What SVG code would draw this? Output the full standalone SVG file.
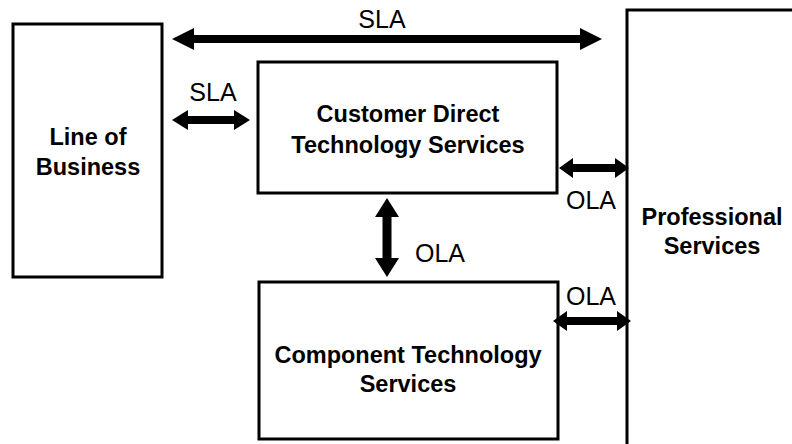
<svg xmlns="http://www.w3.org/2000/svg" width="792" height="444" viewBox="0 0 792 444">
<style>
.box{fill:#fff;stroke:#000;stroke-width:3}
.bt{font-family:"Liberation Sans",Arial,sans-serif;font-weight:bold;font-size:23.5px;text-anchor:middle;fill:#000}
.lt{font-family:"Liberation Sans",Arial,sans-serif;font-size:25px;fill:#000}
.arr{fill:#000}
</style>
<rect width="792" height="444" fill="#fff"/>
<g id="line-of-business">
<rect class="box" x="13" y="24" width="149" height="253"/>
<text class="bt" x="88" y="145">Line of</text>
<text class="bt" x="88" y="175">Business</text>
</g>
<g id="customer-direct">
<rect class="box" x="258" y="62" width="299" height="131"/>
<text class="bt" x="408" y="122">Customer Direct</text>
<text class="bt" x="408" y="153">Technology Services</text>
</g>
<g id="component-tech">
<rect class="box" x="259" y="282" width="299" height="157"/>
<text class="bt" x="408" y="363">Component Technology</text>
<text class="bt" x="408" y="392">Services</text>
</g>
<g id="professional">
<rect class="box" x="627" y="10" width="300" height="500"/>
<text class="bt" x="712" y="225">Professional</text>
<text class="bt" x="712" y="254">Services</text>
</g>
<g id="connectors">
<polygon class="arr" points="172,39 194,28 194,35 580,35 580,28 602,39 580,50 580,43 194,43 194,50"/>
<text class="lt" x="382" y="28" text-anchor="middle">SLA</text>
<polygon class="arr" points="172,120 188,110 188,116 234,116 234,110 250,120 234,130 234,124 188,124 188,130"/>
<text class="lt" x="213" y="101" text-anchor="middle">SLA</text>
<polygon class="arr" points="387,198 399,217 391.5,217 391.5,258 399,258 387,277 375,258 382.5,258 382.5,217 375,217"/>
<text class="lt" x="415" y="262">OLA</text>
<polygon class="arr" points="559,168 573,158 573,164 615,164 615,158 629,168 615,178 615,172 573,172 573,178"/>
<text class="lt" x="591" y="209" text-anchor="middle">OLA</text>
<polygon class="arr" points="553,321 567,311 567,317 617,317 617,311 631,321 617,331 617,325 567,325 567,331"/>
<text class="lt" x="591" y="305" text-anchor="middle">OLA</text>
</g>
</svg>
